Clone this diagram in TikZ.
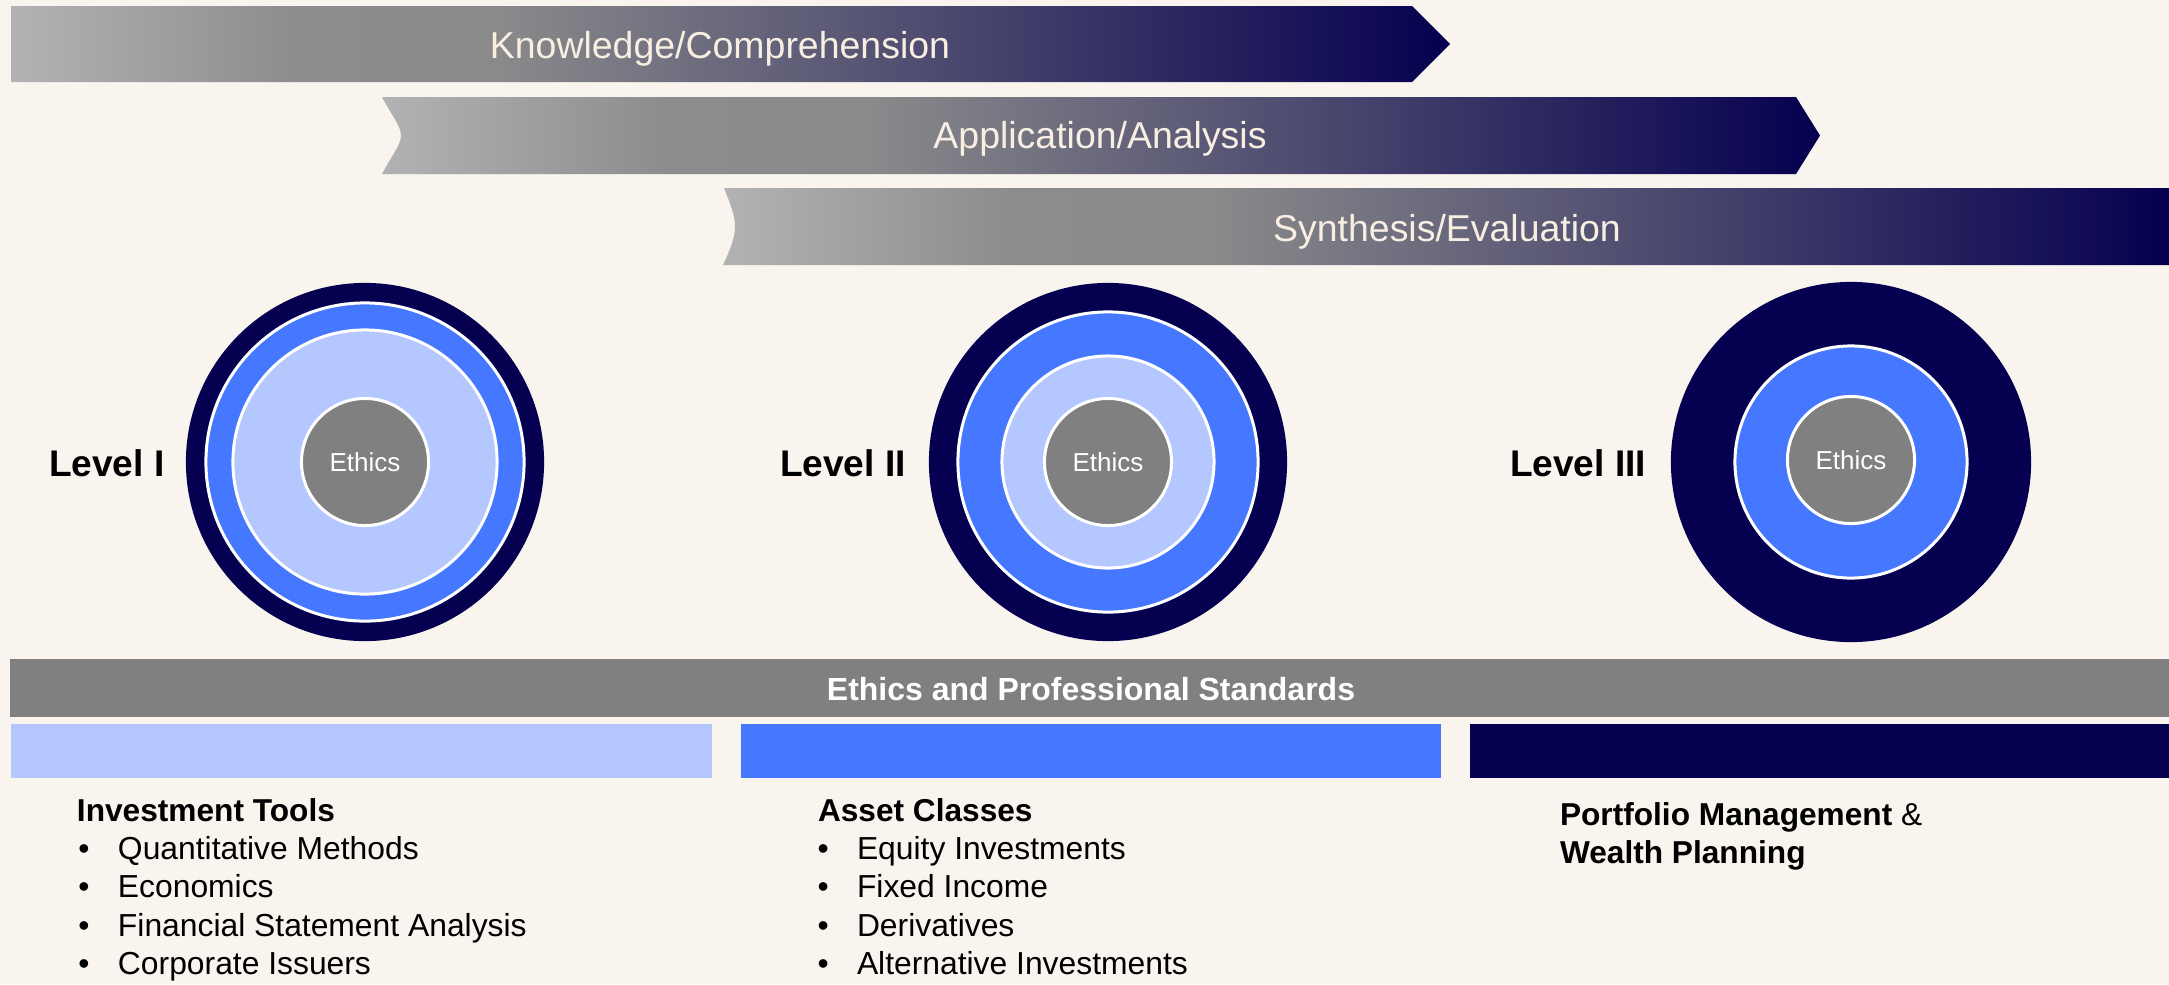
\documentclass[tikz,border=0pt]{standalone}
\usepackage{fontspec}
\setmainfont{Liberation Sans}
\definecolor{bg}{RGB}{249,244,237}
\definecolor{navy}{RGB}{5,0,80}
\definecolor{blueM}{RGB}{70,119,255}
\definecolor{blueL}{RGB}{180,199,255}
\definecolor{grayE}{RGB}{128,128,128}
\definecolor{cream}{RGB}{248,238,226}
\pgfdeclarehorizontalshading{barshade}{100bp}{rgb(0bp)=(0.70,0.70,0.70); rgb(25bp)=(0.70,0.70,0.70); rgb(35bp)=(0.55,0.55,0.55); rgb(42bp)=(0.54,0.54,0.545); rgb(75bp)=(0.02,0,0.31); rgb(100bp)=(0.02,0,0.31)}
\newcommand\bulbox{\makebox[0.395cm][l]{•}}
\begin{document}
\begin{tikzpicture}[x=0.01cm,y=-0.01cm,
  txt/.style={inner sep=0pt, outer sep=0pt},
  bartext/.style={txt, anchor=base, text=cream, font=\fontsize{10.65}{12}\selectfont},
  leveltext/.style={txt, anchor=base west, font=\fontsize{10.55}{12}\selectfont\bfseries},
  ring/.style={circle, inner sep=0pt, outer sep=0pt},
  wring/.style={ring, draw=white, line width=0.03cm},
  ethicsc/.style={wring, fill=grayE, text=white, font=\fontsize{7.4}{9}\selectfont},
  listhead/.style={txt, anchor=base west, font=\fontsize{9.0}{11}\selectfont\bfseries},
  listitem/.style={txt, anchor=base west, font=\fontsize{9.05}{11}\selectfont},
  barshape/.style={shading=barshade}]
\useasboundingbox[fill=bg] (0,0) rectangle (2169,984);

% progression bars
\path[barshape] (11,6) -- (1412,6) -- (1450,44) -- (1412,82) -- (11,82) -- cycle;
\node[bartext] (kc) at (720,58.5) {Knowledge/Comprehension};
\path[barshape] (382,97) -- (1796,97) -- (1820,135.5) -- (1796,174) -- (382,174) .. controls (392,155) and (401,145) .. (401,135.5) .. controls (401,126) and (392,116) .. (382,97) -- cycle;
\node[bartext] (aa) at (1100,148.5) {Application/Analysis};
\path[barshape] (724,188) -- (2169,188) -- (2169,265) -- (723,265) .. controls (730,250) and (735,238) .. (735,226.5) .. controls (735,215) and (730,203) .. (724,188) -- cycle;
\node[bartext] (se) at (1447,241.5) {Synthesis/Evaluation};

% Level I
\node[leveltext] (l1) at (49,476) {Level I};
\node[ring, fill=navy, minimum size=3.58cm] (c1o) at (365,462) {};
\node[wring, fill=blueM, minimum size=3.18cm] (c1b) at (365,462) {};
\node[wring, fill=blueL, minimum size=2.64cm] (c1l) at (365,462) {};
\node[ethicsc, minimum size=1.27cm] (c1e) at (365,462) {Ethics};

% Level II
\node[leveltext] (l2) at (780,476) {Level II};
\node[ring, fill=navy, minimum size=3.58cm] (c2o) at (1108,462) {};
\node[wring, fill=blueM, minimum size=3.0cm] (c2b) at (1108,462) {};
\node[wring, fill=blueL, minimum size=2.12cm] (c2l) at (1108,462) {};
\node[ethicsc, minimum size=1.27cm] (c2e) at (1108,462) {Ethics};

% Level III
\node[leveltext] (l3) at (1510,476.5) {Level III};
\node[ring, fill=navy, minimum size=3.6cm] (c3o) at (1851,462) {};
\node[wring, fill=blueM, minimum size=2.32cm] (c3b) at (1851,462) {};
\node[ethicsc, minimum size=1.27cm] (c3e) at (1851,460) {Ethics};

% ethics bar
\fill[grayE] (10,659) rectangle (2169,717);
\node[txt, anchor=base, text=white, font=\fontsize{9.1}{11}\selectfont\bfseries] (eps) at (1091,700) {Ethics and Professional Standards};

% colour blocks
\fill[blueL] (11,724) rectangle (712,778);
\fill[blueM] (741,724) rectangle (1441,778);
\fill[navy] (1470,724) rectangle (2169,778);

% lists
\node[listhead] (it) at (77,821) {Investment Tools};
\node[listitem] (it1) at (78.5,859) {\bulbox Quantitative Methods};
\node[listitem] (it2) at (78.5,897.5) {\bulbox Economics};
\node[listitem] (it3) at (78.5,936) {\bulbox Financial Statement Analysis};
\node[listitem] (it4) at (78.5,974.5) {\bulbox Corporate Issuers};

\node[listhead] (ac) at (818,821) {Asset Classes};
\node[listitem] (ac1) at (817.5,859) {\bulbox Equity Investments};
\node[listitem] (ac2) at (817.5,897.5) {\bulbox Fixed Income};
\node[listitem] (ac3) at (817.5,936) {\bulbox Derivatives};
\node[listitem] (ac4) at (817.5,974.5) {\bulbox Alternative Investments};

\node[listhead] (pm1) at (1560,825) {Portfolio Management \mdseries\&};
\node[listhead] (pm2) at (1560,863) {Wealth Planning};
\end{tikzpicture}
\end{document}
